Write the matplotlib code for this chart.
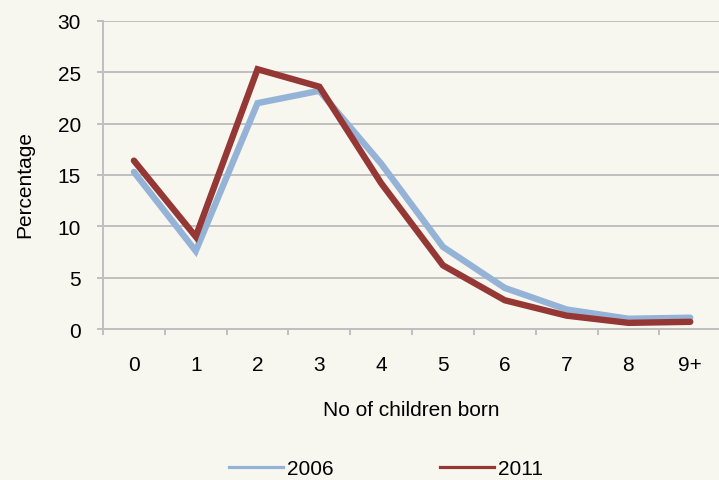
import matplotlib.pyplot as plt
from matplotlib.lines import Line2D
import numpy as np

plt.rcParams['font.family'] = ['Liberation Sans', 'DejaVu Sans']

# data
categories = ["0", "1", "2", "3", "4", "5", "6", "7", "8", "9+"]
pct_2006 = [15.3, 7.6, 22.0, 23.2, 16.1, 8.0, 4.0, 1.9, 1.0, 1.1]
pct_2011 = [16.4, 9.0, 25.3, 23.6, 14.2, 6.2, 2.8, 1.3, 0.6, 0.7]

bg = '#f7f7f0'
grey = '#bfbfbf'
blue = '#95b3d7'
red = '#953735'
fs = 15

fig = plt.figure(figsize=(7.19, 4.81), dpi=100, facecolor=bg)
ax = fig.add_axes([103/719, 1 - 330/481, 1 - 103/719 + 0.003, (330 - 22)/481])
ax.set_facecolor(bg)

x = np.arange(len(categories))
ax.plot(x, pct_2006, color=blue, linewidth=4.6, solid_capstyle='round', solid_joinstyle='miter', label='2006')
ax.plot(x, pct_2011, color=red, linewidth=4.6, solid_capstyle='round', solid_joinstyle='miter', label='2011')

ax.set_xlim(-0.5, len(categories) - 0.5)
ax.set_ylim(0, 30)
ax.set_yticks(range(0, 31, 5))
ax.yaxis.grid(True, color=grey, linewidth=1.4)
ax.set_axisbelow(True)

# category boundaries carry the tick marks, labels sit at the centres
ax.set_xticks(np.arange(-0.5, len(categories), 1.0))
ax.set_xticklabels([])
ax.set_xticks(x, minor=True)
ax.set_xticklabels(categories, minor=True)
ax.tick_params(axis='x', which='major', length=4, width=1.4, color=grey, direction='out')
ax.tick_params(axis='x', which='minor', length=0, pad=19, labelsize=fs)
ax.tick_params(axis='y', length=4, width=1.4, color=grey, pad=12, labelsize=fs)

for s in ['top', 'right']:
    ax.spines[s].set_visible(False)
for s in ['left', 'bottom']:
    ax.spines[s].set_color(grey)
    ax.spines[s].set_linewidth(1.4)

fig.text(411/719, 1 - 410/481, "No of children born", ha='center', va='center', fontsize=fs)
fig.text(25/719, 1 - 185/481, "Percentage", rotation=90, ha='center', va='center', fontsize=fs)

handles = [Line2D([], [], color=blue, linewidth=2.3), Line2D([], [], color=red, linewidth=2.3)]
fig.legend(handles, ['2006', '2011'], loc='center', bbox_to_anchor=(386/719, 1 - 470/481),
           ncol=2, frameon=False, fontsize=fs, handlelength=2.6, handletextpad=0.2,
           columnspacing=5.1, borderpad=0)

fig.savefig('out.png', dpi=100, facecolor=bg)
